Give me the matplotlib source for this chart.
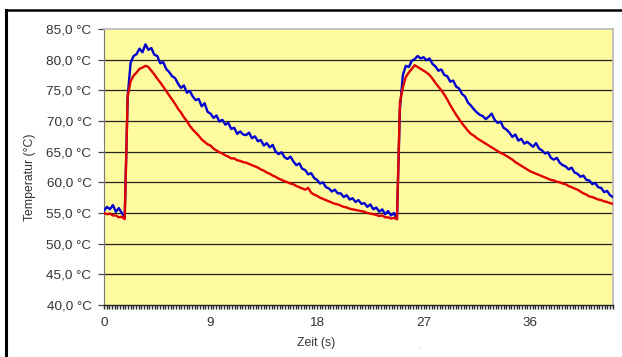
import numpy as np
import matplotlib
matplotlib.use("Agg")
import matplotlib.pyplot as plt
from matplotlib.lines import Line2D
from matplotlib.ticker import FixedLocator, FuncFormatter

# sample spacing of the logger (s)
dt = 0.25

# blue sensor, one row = 2 s
blue = [
    55.4, 56.0, 55.6, 56.3, 55.2, 55.8, 55.0, 54.4,
    74.0, 79.5, 80.6, 80.9, 81.8, 81.2, 82.5, 81.6,
    81.9, 80.8, 80.6, 79.4, 79.6, 78.5, 78.0, 77.3,
    77.0, 76.1, 75.4, 75.8, 74.6, 74.9, 74.0, 73.4,
    73.6, 72.4, 72.9, 71.5, 71.2, 70.5, 70.9, 69.9,
    70.2, 69.4, 69.7, 68.7, 68.9, 67.9, 68.3, 67.8,
    67.7, 68.1, 67.2, 67.5, 66.7, 66.9, 66.0, 66.4,
    65.7, 66.1, 65.0, 64.6, 64.9, 64.1, 63.8, 64.2,
    63.4, 62.8, 63.1, 62.2, 62.0, 61.3, 61.5, 60.7,
    60.4, 59.8, 60.0, 59.2, 59.0, 58.5, 58.8, 58.2,
    58.2, 57.6, 57.9, 57.2, 57.4, 56.8, 57.1, 56.5,
    56.6, 56.0, 56.4, 55.6, 55.9, 55.2, 55.6, 54.8,
    55.3, 54.6, 55.0, 54.0, 72.0, 77.5, 79.0, 78.8,
    79.8, 80.1, 80.6, 80.2, 80.4, 79.9, 80.2, 79.3,
    78.9, 78.2, 78.4, 77.5, 77.3, 76.4, 76.6, 75.6,
    75.3, 74.4, 74.0, 73.0, 72.5, 71.9, 71.4, 71.0,
    70.8, 70.3, 70.7, 71.2, 70.2, 69.7, 69.9, 68.9,
    68.6, 68.1, 67.4, 67.8, 66.8, 67.1, 66.3, 66.6,
    66.2, 65.8, 66.4, 65.5, 65.2, 64.7, 64.9, 64.0,
    63.7, 64.0, 63.2, 62.8, 62.6, 62.1, 62.4, 61.6,
    61.4, 60.9, 61.1, 60.4, 60.3, 59.7, 59.9, 59.2,
    59.1, 58.4, 58.6, 57.9, 57.6,
]

# red sensor, one row = 2 s
red = [
    55.0, 54.8, 54.9, 54.6, 54.6, 54.3, 54.4, 54.0,
    74.0, 76.5, 77.4, 77.9, 78.5, 78.7, 79.0, 78.8,
    78.2, 77.6, 76.9, 76.3, 75.6, 74.9, 74.2, 73.5,
    72.8, 72.0, 71.4, 70.6, 70.0, 69.2, 68.6, 68.1,
    67.6, 67.0, 66.6, 66.2, 66.0, 65.5, 65.2, 64.9,
    64.7, 64.4, 64.2, 63.9, 63.9, 63.6, 63.5, 63.3,
    63.2, 63.0, 62.8, 62.6, 62.4, 62.1, 61.9, 61.6,
    61.4, 61.1, 60.9, 60.6, 60.4, 60.2, 60.0, 59.8,
    59.7, 59.4, 59.2, 59.0, 58.8, 59.1, 58.3, 58.0,
    57.8, 57.5, 57.3, 57.1, 56.9, 56.7, 56.5, 56.4,
    56.2, 56.0, 55.9, 55.7, 55.6, 55.5, 55.4, 55.3,
    55.2, 55.0, 54.9, 54.8, 54.7, 54.5, 54.6, 54.3,
    54.3, 54.1, 54.2, 54.0, 73.0, 75.5, 77.2, 77.9,
    78.5, 79.1, 78.8, 78.5, 78.2, 77.9, 77.5, 76.9,
    76.2, 75.6, 75.0, 74.3, 73.5, 72.6, 71.8, 71.0,
    70.3, 69.6, 69.0, 68.4, 67.9, 67.6, 67.2, 66.9,
    66.6, 66.3, 66.0, 65.7, 65.4, 65.1, 64.8, 64.6,
    64.3, 64.0, 63.7, 63.3, 63.0, 62.7, 62.4, 62.1,
    61.8, 61.6, 61.4, 61.2, 61.0, 60.8, 60.6, 60.4,
    60.3, 60.1, 60.0, 59.8, 59.7, 59.4, 59.2, 59.0,
    58.8, 58.5, 58.2, 58.0, 57.7, 57.6, 57.4, 57.2,
    57.1, 56.9, 56.8, 56.6, 56.5,
]

x_ticks = [0, 9, 18, 27, 36]
y_ticks = [40, 45, 50, 55, 60, 65, 70, 75, 80, 85]

t = np.arange(len(blue)) * dt

plt.rcParams["font.family"] = ["Liberation Sans", "DejaVu Sans"]

W, H = 622, 357
fig = plt.figure(figsize=(W / 100, H / 100), dpi=100)
ax = fig.add_axes([104 / W, (H - 305) / H, (613 - 104) / W, (305 - 29) / H])
ax.set_facecolor("#FFFB9E")

for y in y_ticks[1:-1]:
    ax.axhline(y, color="#222222", lw=0.9, zorder=1)

ax.plot(t, blue, color="#0000D0", lw=1.7, zorder=3)
ax.plot(t, red, color="#E00000", lw=1.7, zorder=4)

ax.set_xlim(0, 43.0)
ax.set_ylim(40, 85)

ax.xaxis.set_major_locator(FixedLocator(x_ticks))
ax.xaxis.set_minor_locator(FixedLocator(np.arange(0, 43.1, 9 / 40)))
ax.yaxis.set_major_locator(FixedLocator(y_ticks))
ax.yaxis.set_major_formatter(FuncFormatter(lambda v, p: f"{v:.1f}".replace(".", ",") + " °C"))

ax.tick_params(axis="y", length=4, width=0.9, color="#444444", pad=5, labelsize=9.7, labelcolor="#333333")
ax.tick_params(axis="x", which="major", length=3, width=1.0, color="#222222", pad=6, labelsize=9.7, labelcolor="#333333")
ax.tick_params(axis="x", which="minor", length=3, width=1.0, color="#222222")

ax.spines["left"].set_color("#777777")
ax.spines["bottom"].set_color("#222222")
ax.spines["bottom"].set_linewidth(1.0)
for s in ["top", "right"]:
    ax.spines[s].set_color("#B8B8B8")
    ax.spines[s].set_linewidth(1.2)

fig.text(30 / W, (H - 177) / H, "Temperatur (°C)", rotation=90, ha="center", va="center",
         fontsize=8.8, color="#333333")
fig.text(316 / W, (H - 343) / H, "Zeit (s)", ha="center", va="center", fontsize=8.8, color="#333333")
fig.text(418 / W, (H - 347) / H, ".", ha="center", va="center", fontsize=6, color="#999999")

# black frame around the chart
fig.add_artist(Line2D([6 / W, 1.0], [(H - 10) / H, (H - 10) / H], transform=fig.transFigure, color="black", lw=1.8))
fig.add_artist(Line2D([6 / W, 6 / W], [0, (H - 10) / H], transform=fig.transFigure, color="black", lw=2.2))

fig.savefig("out.png", dpi=100)
